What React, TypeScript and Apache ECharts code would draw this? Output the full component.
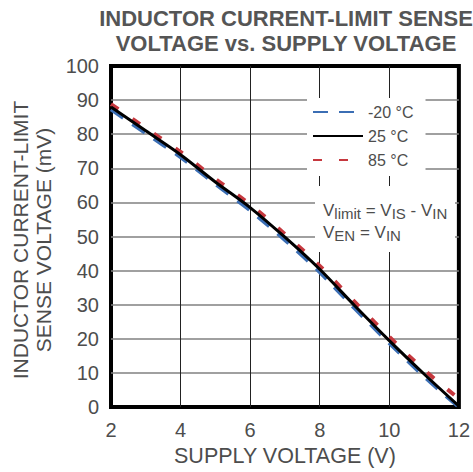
import React, { useEffect, useRef } from "react";
import * as echarts from "echarts";

const supplyVoltage = [2, 3, 4, 5, 6, 7, 8, 9, 10, 11, 12];
const senseMinus20 = [87.3, 80.3, 73.3, 65.4, 57.7, 49.0, 39.6, 29.0, 18.8, 9.0, 0];
const sense25 = [88, 81, 74, 66, 58.5, 49.8, 40.4, 29.8, 19.5, 9.7, 0.3];
const sense85 = [88.8, 81.8, 74.8, 66.9, 59.4, 50.7, 41.4, 30.9, 20.6, 10.9, 2.5];
const seriesNames = ["-20 °C", "25 °C", "85 °C"];
const xTicks = [2, 4, 6, 8, 10, 12];
const yTicks = [0, 10, 20, 30, 40, 50, 60, 70, 80, 90, 100];

const FONT = "'Liberation Sans', Arial, sans-serif";
const TXT = "#4d4d4d";

const pairs = (ys: number[]) => supplyVoltage.map((x, i) => [x, ys[i]]);

export default function App() {
  const ref = useRef<HTMLDivElement>(null);
  useEffect(() => {
    if (!ref.current) return;
    const chart = echarts.init(ref.current, undefined, { renderer: "svg" });
    const rich = {
      v: { fontFamily: FONT, fontSize: 17, lineHeight: 22, fill: TXT },
      s: { fontFamily: FONT, fontSize: 15, lineHeight: 15, verticalAlign: "bottom", fill: TXT },
    };
    chart.setOption({
      animation: false,
      backgroundColor: "#fff",
      title: {
        text: "INDUCTOR CURRENT-LIMIT SENSE\nVOLTAGE vs. SUPPLY VOLTAGE",
        left: 286,
        top: 6,
        textAlign: "center",
        padding: 0,
        textStyle: {
          fontFamily: FONT,
          fontSize: 22,
          fontWeight: "bold",
          color: "#555",
          lineHeight: 25,
        },
      },
      grid: {
        left: 111,
        right: 8,
        top: 66,
        bottom: 58,
        show: true,
        borderColor: "#000",
        borderWidth: 4,
        backgroundColor: "transparent",
      },
      legend: {
        data: seriesNames,
        orient: "vertical",
        left: 307,
        top: 98,
        padding: [6, 12, 8, 5],
        itemWidth: 50,
        itemHeight: 14,
        itemGap: 8,
        backgroundColor: "#fff",
        itemStyle: { opacity: 0 },
        textStyle: { fontFamily: FONT, fontSize: 16, color: TXT },
      },
      xAxis: {
        type: "value",
        min: 2,
        max: 12,
        interval: 2,
        name: "SUPPLY VOLTAGE (V)",
        nameLocation: "middle",
        nameGap: 37,
        nameTextStyle: { fontFamily: FONT, fontSize: 21.5, color: TXT },
        axisLine: { show: false },
        axisTick: { show: false },
        axisLabel: {
          margin: 13,
          fontFamily: FONT,
          fontSize: 20,
          color: TXT,
          formatter: (v: number) => (xTicks.includes(v) ? String(v) : ""),
        },
        splitLine: {
          show: true,
          showMinLine: false,
          showMaxLine: false,
          lineStyle: { color: "#222", width: 1 },
        },
      },
      yAxis: {
        type: "value",
        min: 0,
        max: 100,
        interval: 10,
        axisLine: { show: false },
        axisTick: { show: false },
        axisLabel: {
          margin: 12,
          fontFamily: FONT,
          fontSize: 20,
          color: TXT,
          formatter: (v: number) => (yTicks.includes(v) ? String(v) : ""),
        },
        splitLine: {
          show: true,
          showMinLine: false,
          showMaxLine: false,
          lineStyle: { color: "#808080", width: 1.5 },
        },
      },
      series: [
        {
          name: "-20 °C",
          type: "line",
          data: pairs(senseMinus20),
          smooth: 0.3,
          symbol: "none",
          z: 2,
          lineStyle: { color: "#3b6eb4", width: 4, type: [15, 11] },
          itemStyle: { color: "#3b6eb4" },
        },
        {
          name: "85 °C",
          type: "line",
          data: pairs(sense85),
          smooth: 0.3,
          symbol: "none",
          z: 3,
          lineStyle: { color: "#c6383e", width: 4, type: [9, 17] },
          itemStyle: { color: "#c6383e" },
        },
        {
          name: "25 °C",
          type: "line",
          data: pairs(sense25),
          smooth: 0.3,
          symbol: "none",
          z: 4,
          lineStyle: { color: "#000", width: 3 },
          itemStyle: { color: "#000" },
        },
      ],
      graphic: [
        {
          type: "text",
          x: 20,
          y: 240,
          rotation: Math.PI / 2,
          style: {
            text: "INDUCTOR CURRENT-LIMIT",
            fontFamily: FONT,
            fontSize: 21,
            fill: TXT,
            align: "center",
            verticalAlign: "middle",
          },
        },
        {
          type: "text",
          x: 43,
          y: 240,
          rotation: Math.PI / 2,
          style: {
            text: "SENSE VOLTAGE (mV)",
            fontFamily: FONT,
            fontSize: 21,
            fill: TXT,
            align: "center",
            verticalAlign: "middle",
          },
        },
        {
          type: "rect",
          z: 10,
          shape: { x: 315, y: 186, width: 140, height: 66 },
          style: { fill: "#fff" },
        },
        {
          type: "text",
          z: 11,
          x: 323,
          y: 210,
          style: {
            text: "{v|V}{s|limit}{v| = V}{s|IS}{v| - V}{s|IN}",
            fontFamily: FONT,
            fill: TXT,
            verticalAlign: "middle",
            rich,
          },
        },
        {
          type: "text",
          z: 11,
          x: 323,
          y: 232,
          style: {
            text: "{v|V}{s|EN}{v| = V}{s|IN}",
            fontFamily: FONT,
            fill: TXT,
            verticalAlign: "middle",
            rich,
          },
        },
      ],
    });
    return () => chart.dispose();
  }, []);
  return (
    <div
      ref={ref}
      style={{ position: "fixed", left: 0, top: 0, width: 473, height: 472 }}
    />
  );
}
